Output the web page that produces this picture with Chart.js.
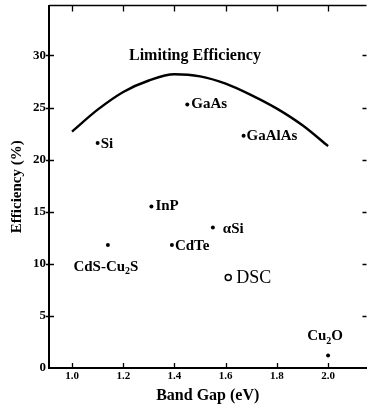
<!DOCTYPE html>
<html>
<head>
<meta charset="utf-8">
<script src="https://cdn.jsdelivr.net/npm/chart.js@4/dist/chart.umd.min.js"></script>
<style>
  html, body { margin: 0; padding: 0; background: #fff; overflow: hidden; }
</style>
</head>
<body>
<canvas id="chart" width="372" height="410"></canvas>
<script>
// solar cell materials: band gap (eV) vs. best efficiency (%)
const cellNames = ['Si', 'GaAs', 'GaAlAs', 'InP', 'αSi', 'CdTe', 'CdS-Cu_2S', 'Cu_2O'];
const cellGap = [1.10, 1.45, 1.67, 1.31, 1.55, 1.39, 1.14, 2.00];
const cellEff = [21.6, 25.3, 22.3, 15.5, 13.5, 11.8, 11.8, 1.2];

// dye sensitised cell, drawn as an open circle
const dscNames = ['DSC'];
const dscGap = [1.61];
const dscEff = [8.7];

// theoretical limit curve
const limitGap = [1.0, 1.1, 1.2, 1.3, 1.4, 1.5, 1.6, 1.7, 1.8, 1.9, 2.0];
const limitEff = [22.7, 24.8, 26.5, 27.6, 28.2, 28.0, 27.3, 26.2, 24.9, 23.3, 21.3];
const limitTitle = 'Limiting Efficiency';

const xTicks = [1.0, 1.2, 1.4, 1.6, 1.8, 2.0];
const yTicks = [0, 5, 10, 15, 20, 25, 30];

const SERIF = "'Liberation Serif', 'DejaVu Serif', serif";

// where each name sits relative to its point
const labelPlace = {
  'Si':        { dx: 3,  dy: 1,   align: 'left' },
  'GaAs':      { dx: 4,  dy: 0,   align: 'left' },
  'GaAlAs':    { dx: 3,  dy: 0,   align: 'left' },
  'InP':       { dx: 4,  dy: 0,   align: 'left' },
  'αSi':       { dx: 10, dy: 2,   align: 'left' },
  'CdTe':      { dx: 3,  dy: 1,   align: 'left' },
  'CdS-Cu_2S': { dx: -2, dy: 22,  align: 'center' },
  'Cu_2O':     { dx: -3, dy: -19, align: 'center' },
  'DSC':       { dx: 8,  dy: 1,   align: 'left' },
};

// text with "_x" marking a subscript character
function splitSub(text) {
  const parts = [];
  let buf = '';
  for (let i = 0; i < text.length; i++) {
    if (text[i] === '_' && i + 1 < text.length) {
      if (buf) parts.push({ t: buf, sub: false });
      parts.push({ t: text[i + 1], sub: true });
      buf = '';
      i++;
    } else {
      buf += text[i];
    }
  }
  if (buf) parts.push({ t: buf, sub: false });
  return parts;
}

function drawRich(ctx, text, x, y, align, size, weight) {
  const parts = splitSub(text);
  const mainFont = `${weight} ${size}px ${SERIF}`;
  const subFont = `${weight} ${Math.round(size * 0.68)}px ${SERIF}`;
  let total = 0;
  parts.forEach(p => {
    ctx.font = p.sub ? subFont : mainFont;
    p.w = ctx.measureText(p.t).width;
    total += p.w;
  });
  let cx = align === 'center' ? x - total / 2 : x;
  ctx.textAlign = 'left';
  ctx.textBaseline = 'middle';
  parts.forEach(p => {
    ctx.font = p.sub ? subFont : mainFont;
    ctx.fillText(p.t, cx, p.sub ? y + size * 0.3 : y);
    cx += p.w;
  });
}

const frameAndLabels = {
  id: 'frameAndLabels',
  afterDatasetsDraw(chart) {
    const { ctx, chartArea: a, scales: { x, y } } = chart;
    ctx.save();
    ctx.strokeStyle = '#000';
    ctx.fillStyle = '#000';

    // top edge of the frame
    ctx.lineWidth = 1.5;
    ctx.beginPath();
    ctx.moveTo(a.left, a.top);
    ctx.lineTo(a.right, a.top);
    ctx.stroke();

    // inward tick marks on all four sides
    ctx.lineWidth = 1.3;
    ctx.beginPath();
    xTicks.forEach(v => {
      const px = Math.round(x.getPixelForValue(v)) + 0.5;
      ctx.moveTo(px, a.bottom);
      ctx.lineTo(px, a.bottom - 5);
      ctx.moveTo(px, a.top);
      ctx.lineTo(px, a.top + 6);
    });
    yTicks.forEach(v => {
      if (v === 0) return;
      const py = Math.round(y.getPixelForValue(v)) + 0.5;
      ctx.moveTo(a.left - 3, py);
      ctx.lineTo(a.left + 5, py);
      ctx.moveTo(a.right - 4, py);
      ctx.lineTo(a.right, py);
    });
    ctx.stroke();

    // point names
    const cellMeta = chart.getDatasetMeta(1).data;
    cellNames.forEach((name, i) => {
      const p = labelPlace[name];
      const el = cellMeta[i];
      drawRich(ctx, name, el.x + p.dx, el.y + p.dy, p.align, 15, 'bold');
    });
    const dscMeta = chart.getDatasetMeta(2).data;
    dscNames.forEach((name, i) => {
      const p = labelPlace[name];
      const el = dscMeta[i];
      drawRich(ctx, name, el.x + p.dx, el.y + p.dy, p.align, 18, 'normal');
    });

    // curve caption
    drawRich(ctx, limitTitle, x.getPixelForValue(1.48), y.getPixelForValue(30), 'center', 16, 'bold');
    ctx.restore();
  }
};

new Chart(document.getElementById('chart'), {
  type: 'scatter',
  data: {
    datasets: [
      {
        type: 'line',
        label: limitTitle,
        data: limitGap.map((g, i) => ({ x: g, y: limitEff[i] })),
        borderColor: '#000',
        borderWidth: 2.4,
        pointRadius: 0,
        cubicInterpolationMode: 'monotone',
        fill: false,
      },
      {
        label: 'cells',
        data: cellGap.map((g, i) => ({ x: g, y: cellEff[i] })),
        pointRadius: 2,
        pointBackgroundColor: '#000',
        pointBorderWidth: 0,
      },
      {
        label: 'DSC',
        data: dscGap.map((g, i) => ({ x: g, y: dscEff[i] })),
        pointRadius: 3,
        pointBackgroundColor: '#fff',
        pointBorderColor: '#000',
        pointBorderWidth: 1.5,
      },
    ],
  },
  options: {
    responsive: false,
    devicePixelRatio: 1,
    animation: false,
    layout: { padding: { top: 4, right: 0, left: 0, bottom: 0 } },
    plugins: {
      legend: { display: false },
      tooltip: { enabled: false },
    },
    scales: {
      x: {
        type: 'linear',
        min: 0.91,
        max: 2.15,
        afterBuildTicks: s => { s.ticks = xTicks.map(v => ({ value: v })); },
        afterFit: s => { s.height = 42; s.paddingLeft = 0; s.paddingRight = 0; },
        grid: { display: false, drawTicks: false },
        border: { display: true, color: '#000', width: 2 },
        ticks: {
          color: '#000',
          padding: 2,
          maxRotation: 0,
          font: { family: SERIF, weight: 'bold', size: 11 },
          callback: v => v.toFixed(1),
        },
        title: {
          display: true,
          text: 'Band Gap (eV)',
          color: '#000',
          font: { family: SERIF, weight: 'bold', size: 16 },
          padding: { top: 0, bottom: 5 },
        },
      },
      y: {
        type: 'linear',
        min: 0,
        max: 34.8,
        afterBuildTicks: s => { s.ticks = yTicks.map(v => ({ value: v })); },
        afterFit: s => { s.width = 49; s.paddingTop = 0; s.paddingBottom = 0; },
        grid: { display: false, drawTicks: false },
        border: { display: true, color: '#000', width: 2 },
        ticks: {
          color: '#000',
          padding: 3,
          font: { family: SERIF, weight: 'bold', size: 13 },
          callback: v => String(v),
        },
        title: {
          display: true,
          text: 'Efficiency (%)',
          color: '#000',
          font: { family: SERIF, weight: 'bold', size: 15 },
          padding: { top: 8, bottom: 0 },
        },
      },
    },
  },
  plugins: [frameAndLabels],
});
</script>
</body>
</html>
